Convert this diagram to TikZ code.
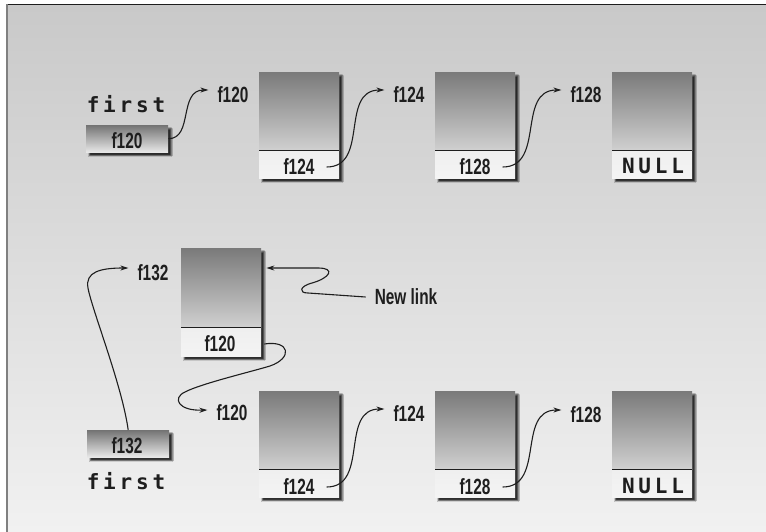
\documentclass[tikz,border=0pt]{standalone}
\usepackage{fontspec}
\usetikzlibrary{arrows.meta,shadows.blur}
\newfontfamily\lblfont[FakeStretch=0.7]{Liberation Sans}
\newfontfamily\mfont[LetterSpace=18]{DejaVu Sans Mono}
\definecolor{bgtop}{HTML}{C9C9C9}
\definecolor{bgbot}{HTML}{F1F1F1}
\definecolor{uptop}{HTML}{7A7A7A}
\definecolor{upbot}{HTML}{D0D0D0}
\definecolor{lowtop}{HTML}{E0E0E0}
\definecolor{lowbot}{HTML}{F4F4F4}
\definecolor{ptop}{HTML}{747474}
\definecolor{pmid}{HTML}{BEBEBE}
\definecolor{pbot}{HTML}{E8E8E8}
\definecolor{ink}{HTML}{1E1E1E}
\tikzset{
  boxshadow/.style={blur shadow={shadow xshift=3pt,shadow yshift=-3.5pt,shadow blur radius=1.2pt,shadow opacity=80}},
  memnode/.style={rectangle, inner sep=0pt, minimum width=80pt, minimum height=106pt, anchor=north west, boxshadow, top color=lowtop, bottom color=lowbot},
  uppart/.style={rectangle, inner sep=0pt, minimum width=80pt, minimum height=78pt, anchor=north west, top color=uptop, bottom color=upbot},
  divider/.style={draw=ink, line width=1.3pt},
  lblf/.style={font=\lblfont\bfseries\fontsize{22}{26}\selectfont, text=ink},
  ptrbox/.style={rectangle, inner sep=0pt, minimum width=82pt, minimum height=27pt, anchor=north west, boxshadow, top color=ptop, middle color=pmid, bottom color=pbot},
  lbl/.style={inner xsep=9pt, inner ysep=0pt, lblf},
  celltxt/.style={inner xsep=12pt, inner ysep=0pt, lblf},
  mono/.style={font=\mfont\bfseries\fontsize{21}{25}\selectfont, text=ink, inner sep=0pt},
  conn/.style={draw=ink, line width=1.1pt, -{Stealth[length=8pt,width=5pt]}},
}
\begin{document}
\begin{tikzpicture}[x=1pt,y=-1pt]
\useasboundingbox (0,0) rectangle (766,532);
\fill[white] (0,0) rectangle (766,532);
\shade[top color=bgtop,bottom color=bgbot] (7,4.5) rectangle (766,532);
\draw[line width=1.5pt, draw=ink] (7,4.5) -- (766,4.5);
\draw[line width=1.2pt, draw=gray] (7,4.5) -- (7,532);

% ---------- top list ----------
\node[mono] (first1) at (126,104) {first};
\node[ptrbox] (p1) at (86,125) {};
\node[lblf, inner sep=0pt] (p1t) at (127,141) {f120};
\node[lbl] (L1) at (233,95) {f120};

\node[memnode] (b1) at (259,72) {};
\node[uppart] (b1u) at (b1.north west) {};
\draw[divider] (b1u.south west) -- (b1u.south east);
\node[celltxt] (b1t) at (299,167) {f124};
\node[lbl] (L2) at (409,95) {f124};

\node[memnode] (b2) at (435,72) {};
\node[uppart] (b2u) at (b2.north west) {};
\draw[divider] (b2u.south west) -- (b2u.south east);
\node[celltxt] (b2t) at (475,167) {f128};
\node[lbl] (L3) at (586,95) {f128};

\node[memnode] (b3) at (612,72) {};
\node[uppart] (b3u) at (b3.north west) {};
\draw[divider] (b3u.south west) -- (b3u.south east);
\node[mono] (b3t) at (653,166) {NULL};

\draw[conn] (p1.east) .. controls +(25,0) and +(-30,0) .. ([yshift=5pt]L1.west);
\draw[conn] (b1t.east) .. controls +(43,0) and +(-45,0) .. ([yshift=5pt]L2.west);
\draw[conn] (b2t.east) .. controls +(43,0) and +(-45,0) .. ([yshift=5pt]L3.west);

% ---------- new node ----------
\node[memnode, minimum height=108pt] (n4) at (181,248) {};
\node[uppart, minimum height=79pt] (n4u) at (n4.north west) {};
\draw[divider] (n4u.south west) -- (n4u.south east);
\node[celltxt] (n4t) at (220,344) {f120};
\node[lbl] (L4) at (153,273) {f132};
\node[lbl] (NL) at (406,297) {New link};

% ---------- bottom list ----------
\node[ptrbox] (p2) at (87,430) {};
\node[lblf, inner sep=0pt] (p2t) at (127,446) {f132};
\node[mono] (first2) at (126,481) {first};
\node[lbl] (L5) at (232,413) {f120};

\node[memnode] (b4) at (259,391) {};
\node[uppart] (b4u) at (b4.north west) {};
\draw[divider] (b4u.south west) -- (b4u.south east);
\node[celltxt] (b4t) at (299,487) {f124};
\node[lbl] (L6) at (409,414) {f124};

\node[memnode] (b5) at (435,391) {};
\node[uppart] (b5u) at (b5.north west) {};
\draw[divider] (b5u.south west) -- (b5u.south east);
\node[celltxt] (b5t) at (475,487) {f128};
\node[lbl] (L7) at (586,415) {f128};

\node[memnode] (b6) at (612,391) {};
\node[uppart] (b6u) at (b6.north west) {};
\draw[divider] (b6u.south west) -- (b6u.south east);
\node[mono] (b6t) at (653,486) {NULL};

\draw[conn] (b4t.east) .. controls +(43,0) and +(-45,0) .. ([yshift=5pt]L6.west);
\draw[conn] (b5t.east) .. controls +(43,0) and +(-45,0) .. ([yshift=5pt]L7.west);

% first -> new node
\draw[conn] (p2.north) .. controls (122,385) and (92,310) .. (88,288)
  .. controls (85,272) and (100,268) .. ([yshift=5pt]L4.west);
% new node -> old first node
\draw[conn] ([xshift=3pt]n4t.center -| n4.east) .. controls (290,340) and (293,358) .. (270,366)
  .. controls (250,372) and (200,384) .. (185,392)
  .. controls (172,398) and (178,411) .. ([yshift=3pt]L5.west);
% New link
\draw[conn] (NL.west) -- (308,293) .. controls (298,293) and (300,286) .. (312,283)
  .. controls (330,278) and (336,268) .. (318,268) -- ([xshift=5pt,yshift=-20pt]n4.north east);
\end{tikzpicture}
\end{document}
